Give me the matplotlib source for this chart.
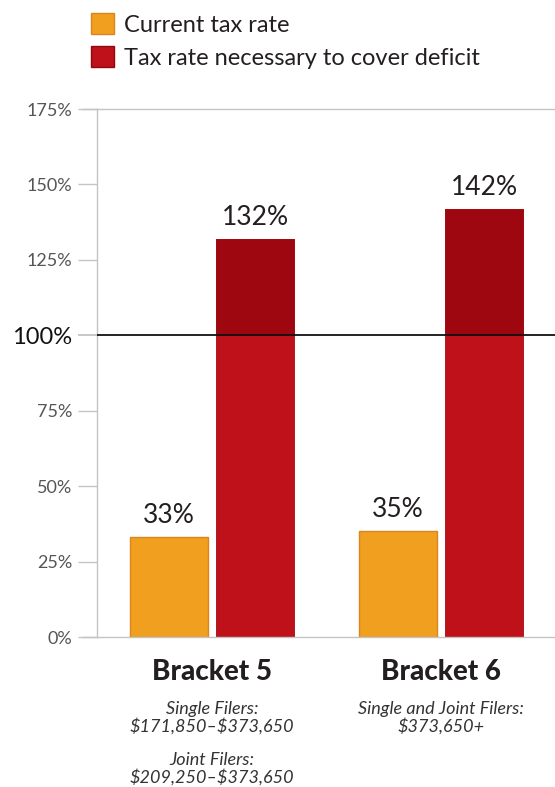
import matplotlib
matplotlib.use("Agg")
import matplotlib.pyplot as plt
from matplotlib.patches import Patch
import numpy as np

brackets = ["Bracket 5", "Bracket 6"]
current_rate = [33, 35]
needed_rate = [132, 142]
sub_labels = [["Single Filers:\n\\$171,850–\\$373,650", "Joint Filers:\n\\$209,250–\\$373,650"],
              ["Single and Joint Filers:\n\\$373,650+"]]
yticks = [0, 25, 50, 75, 100, 125, 150, 175]
ytick_labels = ["0%", "25%", "50%", "75%", "100%", "125%", "150%", "175%"]
legend_labels = ["Current tax rate", "Tax rate necessary to cover deficit"]

ORANGE = "#F0A01E"
ORANGE_EDGE = "#DC8420"
RED = "#BE111A"
DARK_RED = "#9E0610"
GRAY = "#C4C4C4"
FONT = "Lato"

plt.rcParams['font.family'] = [FONT, 'DejaVu Sans']

fig = plt.figure(figsize=(5.55, 7.87), dpi=100)
W, H = 555, 787
ax = fig.add_axes([97 / W, (H - 637) / H, (555 - 97) / W, (637 - 109) / H])

x = np.arange(len(brackets))
off = 0.189
bw = 0.34

b1 = ax.bar(x - off, current_rate, bw, color=ORANGE, edgecolor=ORANGE_EDGE, linewidth=1, zorder=2)
b2 = ax.bar(x + off, needed_rate, bw, color=RED, edgecolor="#A30A12", linewidth=0.6, zorder=2)
# darker portion above 100%
over = [max(v - 100, 0) for v in needed_rate]
ax.bar(x + off, over, bw, bottom=100, color=DARK_RED, edgecolor="#A30A12", linewidth=0.6, zorder=2)

for xi, v in zip(x - off, current_rate):
    ax.text(xi, v + 3, f"{v}%", ha="center", va="bottom", fontsize=19, color="#231F20")
for xi, v in zip(x + off, needed_rate):
    ax.text(xi, v + 3, f"{v}%", ha="center", va="bottom", fontsize=19, color="#231F20")

ax.set_xlim(-0.502, 1.498)
ax.set_ylim(0, 175)
ax.set_xticks([])
ax.set_yticks(yticks)
ax.set_yticklabels(ytick_labels, fontsize=13, color="#555555")
ax.tick_params(axis="y", length=14, color=GRAY, width=1, pad=4)

for s in ["left", "top", "bottom"]:
    ax.spines[s].set_color(GRAY)
    ax.spines[s].set_linewidth(1)
ax.spines["right"].set_visible(False)

# extend top/bottom lines to the tick start
for yv in [0, 175]:
    ax.plot([-0.502 - 14 / 229, -0.502], [yv, yv], color=GRAY, lw=1, clip_on=False, zorder=1)

ax.axhline(100, color="#111111", lw=1.3, zorder=3)
t100 = ax.yaxis.get_major_ticks()[4]
t100.tick1line.set_color("#111111")
t100.tick1line.set_markeredgewidth(1.3)
lab = ax.get_yticklabels()[4]
lab.set_fontsize(17)
lab.set_color("#111111")

# category labels
trans = ax.get_xaxis_transform()
for xi, name in zip(x, brackets):
    ax.text(xi, -0.066, name, transform=trans, ha="center", va="center",
            fontsize=20, fontweight="black", color="#231F20")
sub_kw = dict(transform=trans, ha="center", va="center", fontsize=13,
              fontstyle="italic", color="#333333", linespacing=1.05)
ax.text(x[0], -0.1525, sub_labels[0][0], **sub_kw)
ax.text(x[0], -0.250, sub_labels[0][1], **sub_kw)
ax.text(x[1], -0.1525, sub_labels[1][0], **sub_kw)

handles = [Patch(facecolor=ORANGE, edgecolor=ORANGE_EDGE, linewidth=1),
           Patch(facecolor=RED, edgecolor="#8E0A10", linewidth=1)]
fig.legend(handles, legend_labels, loc="upper left", bbox_to_anchor=(82 / W, 1 - 4 / H),
           frameon=False, fontsize=17, handlelength=0.95, handleheight=0.95,
           handletextpad=0.45, labelspacing=0.45, labelcolor="#231F20", borderaxespad=0)

fig.savefig("out.png", dpi=100)
